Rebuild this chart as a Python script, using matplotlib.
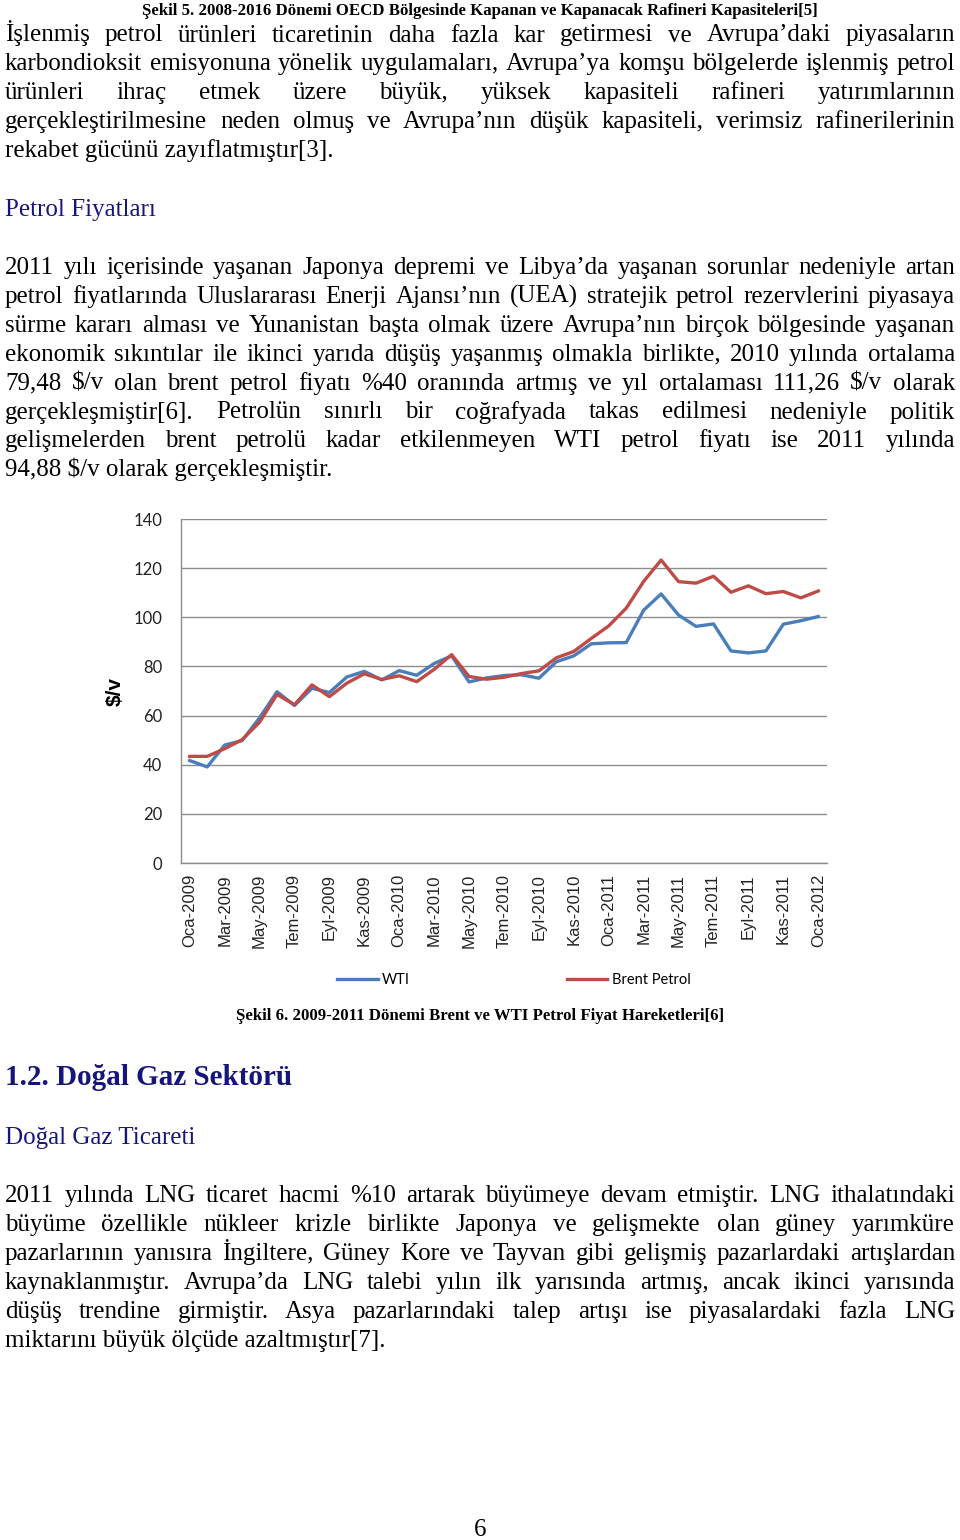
import numpy as np
import matplotlib
matplotlib.use("Agg")
import matplotlib.pyplot as plt

# sayfa boyutu (piksel)
W, H = 960, 1540

# --- grafik verisi: 2009-2011 aylik ortalama fiyatlar ($/v) ---
wti = [41.7, 39.1, 48.0, 49.8, 59.1, 69.7, 64.1, 71.1, 69.4, 75.7, 78.0, 74.5,
       78.3, 76.4, 81.2, 84.3, 73.7, 75.3, 76.3, 76.6, 75.2, 81.9, 84.3, 89.2,
       89.6, 89.7, 102.9, 109.5, 100.9, 96.3, 97.3, 86.3, 85.5, 86.3, 97.2, 98.6,
       100.3]
brent = [43.4, 43.4, 46.5, 50.2, 57.3, 68.6, 64.4, 72.5, 67.7, 73.2, 77.0, 74.7,
         76.2, 73.8, 78.8, 84.8, 75.9, 74.8, 75.6, 77.1, 78.2, 83.5, 86.1, 91.4,
         96.5, 103.7, 114.6, 123.3, 114.5, 113.9, 116.7, 110.2, 112.8, 109.6, 110.5, 107.9,
         110.7]
tick_labels = ["Oca-2009", "Mar-2009", "May-2009", "Tem-2009", "Eyl-2009", "Kas-2009",
               "Oca-2010", "Mar-2010", "May-2010", "Tem-2010", "Eyl-2010", "Kas-2010",
               "Oca-2011", "Mar-2011", "May-2011", "Tem-2011", "Eyl-2011", "Kas-2011",
               "Oca-2012"]
y_ticks = [0, 20, 40, 60, 80, 100, 120, 140]

# --- sayfa metinleri ---
caption5 = "Şekil 5. 2008-2016 Dönemi OECD Bölgesinde Kapanan ve Kapanacak Rafineri Kapasiteleri[5]"
para1 = [
    "İşlenmiş petrol ürünleri ticaretinin daha fazla kar getirmesi ve Avrupa’daki piyasaların",
    "karbondioksit emisyonuna yönelik uygulamaları, Avrupa’ya komşu bölgelerde işlenmiş petrol",
    "ürünleri ihraç etmek üzere büyük, yüksek kapasiteli rafineri yatırımlarının",
    "gerçekleştirilmesine neden olmuş ve Avrupa’nın düşük kapasiteli, verimsiz rafinerilerinin",
    "rekabet gücünü zayıflatmıştır[3].",
]
head1 = "Petrol Fiyatları"
para2 = [
    "2011 yılı içerisinde yaşanan Japonya depremi ve Libya’da yaşanan sorunlar nedeniyle artan",
    "petrol fiyatlarında Uluslararası Enerji Ajansı’nın (UEA) stratejik petrol rezervlerini piyasaya",
    "sürme kararı alması ve Yunanistan başta olmak üzere Avrupa’nın birçok bölgesinde yaşanan",
    "ekonomik sıkıntılar ile ikinci yarıda düşüş yaşanmış olmakla birlikte, 2010 yılında ortalama",
    "79,48 $/v olan brent petrol fiyatı %40 oranında artmış ve yıl ortalaması 111,26 $/v olarak",
    "gerçekleşmiştir[6]. Petrolün sınırlı bir coğrafyada takas edilmesi nedeniyle politik",
    "gelişmelerden brent petrolü kadar etkilenmeyen WTI petrol fiyatı ise 2011 yılında",
    "94,88 $/v olarak gerçekleşmiştir.",
]
caption6 = "Şekil 6. 2009-2011 Dönemi Brent ve WTI Petrol Fiyat Hareketleri[6]"
head2 = "1.2. Doğal Gaz Sektörü"
head3 = "Doğal Gaz Ticareti"
para3 = [
    "2011 yılında LNG ticaret hacmi %10 artarak büyümeye devam etmiştir. LNG ithalatındaki",
    "büyüme özellikle nükleer krizle birlikte Japonya ve gelişmekte olan güney yarımküre",
    "pazarlarının yanısıra İngiltere, Güney Kore ve Tayvan gibi gelişmiş pazarlardaki artışlardan",
    "kaynaklanmıştır. Avrupa’da LNG talebi yılın ilk yarısında artmış, ancak ikinci yarısında",
    "düşüş trendine girmiştir. Asya pazarlarındaki talep artışı ise piyasalardaki fazla LNG",
    "miktarını büyük ölçüde azaltmıştır[7].",
]

fig = plt.figure(figsize=(W / 100, H / 100), dpi=100)
fig.patch.set_facecolor("white")
renderer = fig.canvas.get_renderer()

SERIF = "Liberation Serif"
NAVY = "#16167a"
body = dict(family=SERIF, fontsize=18, color="black")
LEFT, RIGHT, LS = 5, 955, 28.9


def put(x, y, s, **kw):
    # x, y: piksel (y yukaridan asagi, taban cizgisi)
    return fig.text(x / W, 1 - y / H, s, va="baseline", parse_math=False, **kw)


def justify(lines, y0):
    # iki yana yaslanmis paragraf, son satir sola dayali
    for i, line in enumerate(lines):
        y = y0 + i * LS
        if i == len(lines) - 1:
            put(LEFT, y, line, **body)
            continue
        words = line.split()
        ts = [put(0, y, w, **body) for w in words]
        widths = [t.get_window_extent(renderer).width for t in ts]
        gap = (RIGHT - LEFT - sum(widths)) / (len(words) - 1)
        x = LEFT
        for t, w in zip(ts, widths):
            t.set_x(x / W)
            x += w + gap


put(480, 15, caption5, family=SERIF, fontsize=12.1, weight="bold", ha="center")
justify(para1, 41.5)
put(LEFT, 216, head1, family=SERIF, fontsize=18, color=NAVY)
justify(para2, 274)

# --- grafik ---
ax = fig.add_axes([181 / W, 1 - 863 / H, 646 / W, 344 / H])
x = np.arange(len(wti))
ax.plot(x, wti, color="#4a7ebb", lw=2.4, label="WTI")
ax.plot(x, brent, color="#be4b48", lw=2.4, label="Brent Petrol")
ax.set_xlim(-0.5, len(wti) - 0.5)
ax.set_ylim(0, 140)
ax.set_yticks(y_ticks)
ax.set_xticks(x[::2])
ax.set_xticklabels(tick_labels, rotation=90, family="Liberation Sans", fontsize=12, color="#222222")
for lab in ax.get_yticklabels():
    lab.set_family("Lato")
    lab.set_fontsize(12)
    lab.set_color("#222222")
ax.tick_params(axis="y", length=0, pad=13.5)
ax.tick_params(axis="x", length=0, pad=8)
ax.yaxis.grid(True, color="#8c8c8c", lw=1)
ax.set_axisbelow(True)
for s in ["top", "right"]:
    ax.spines[s].set_visible(False)
for s in ["left", "bottom"]:
    ax.spines[s].set_color("#8c8c8c")
    ax.spines[s].set_linewidth(1)
ax.set_ylabel("$/v", parse_math=False, family="Liberation Sans", weight="bold", fontsize=15)
ax.yaxis.set_label_coords(-0.087, 0.5)

fig.legend(loc="center", bbox_to_anchor=(514 / W, 1 - 980 / H), ncol=2, frameon=False,
           prop=dict(family="Lato", size=10.5), handlelength=2.75, handletextpad=0.3,
           columnspacing=10.8, borderpad=0)

put(480, 1020, caption6, family=SERIF, fontsize=12.1, weight="bold", ha="center")
put(LEFT, 1085, head2, family=SERIF, fontsize=21, weight="bold", color=NAVY)
put(LEFT, 1144, head3, family=SERIF, fontsize=18, color=NAVY)
justify(para3, 1202)
put(480, 1536, "6", family=SERIF, fontsize=18, ha="center")

fig.savefig("out.png", dpi=100, facecolor="white")
